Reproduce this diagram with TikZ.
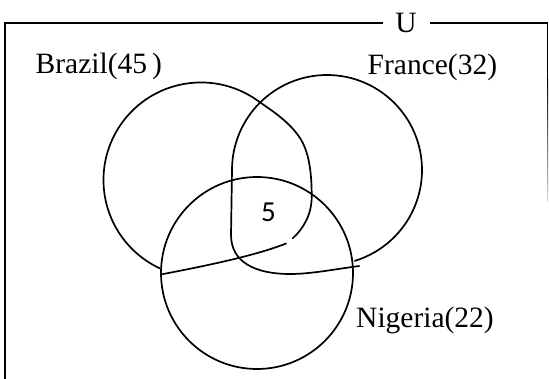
\documentclass[tikz,border=0pt]{standalone}
\usepackage{fontspec}
\setmainfont{Liberation Serif}
\newfontfamily\numfont{Carlito}
\begin{document}
\begin{tikzpicture}[x=1pt,y=-1pt,
  setline/.style={line width=1.7pt, line join=round, line cap=round},
  frameline/.style={line width=2pt},
  lbl/.style={font=\fontsize{29.5}{32}\selectfont, inner sep=0pt, anchor=base west},
  numlbl/.style={font=\numfont\fontsize{29}{30}\selectfont, inner sep=0pt, anchor=base}]
\useasboundingbox (0,0) rectangle (549,379);

% frame
\node[lbl, anchor=base] (u) at (406,32.3) {U};
\draw[frameline] (5,22.4) -- (5,379);
\draw[frameline] (4.2,23.3) -- (383,23.3);
\draw[frameline] (430,23.3) -- (546.5,23.3);
\draw[line width=1.2pt] (547.6,22.4) -- (547.6,80);
\shade[top color=black, bottom color=black!15] (547,80) rectangle (548.2,202);

% Nigeria
\draw[setline] (257,273) circle[radius=96];

% France
\draw[setline] (359.3,266) .. controls (330,270) and (310,274) .. (290,274)
  .. controls (255,274) and (231,262) .. (231,235) -- (232,170)
  arc[start angle=180, end angle=433, radius=95];

% Brazil
\draw[setline] (292.7,238.3) .. controls (303,229) and (311.7,215) .. (311.7,196.7)
  .. controls (311.7,172) and (309,152) .. (300,138)
  .. controls (292,126) and (281,117) .. (269.2,108.7)
  .. controls (265,105.8) and (261,103) .. (256.9,100.1)
  arc[start angle=-55, end angle=-245, radius=97.5];
\draw[setline] (161.7,274.3) .. controls (200,267) and (255,256) .. (286,243.5);

% labels
\node[lbl] (brazil) at (35.5,74) {Brazil(45\,)};
\node[lbl] (france) at (367.5,75) {France(32)};
\node[lbl] (nigeria) at (356,327.5) {Nigeria(22)};
\node[numlbl] (five) at (268.5,221.7) {5};
\end{tikzpicture}
\end{document}
